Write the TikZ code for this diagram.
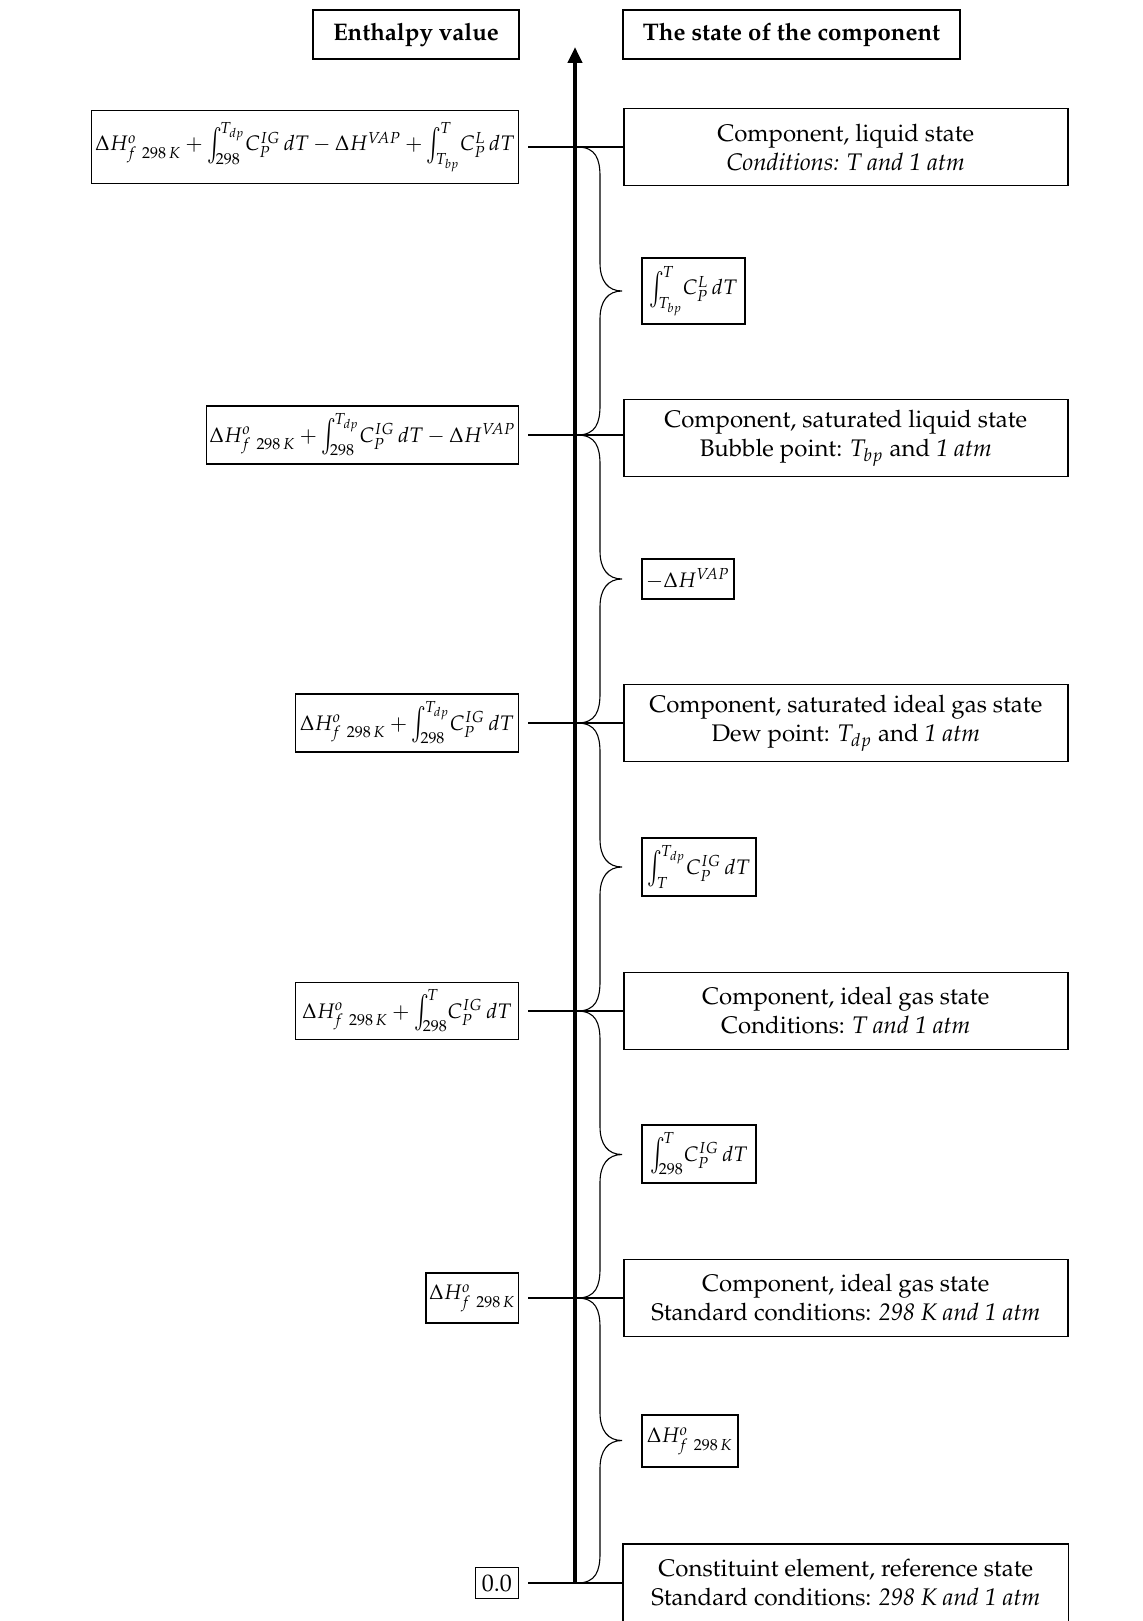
\documentclass[tikz,border=0pt]{standalone}
\usepackage[T1]{fontenc}
\usepackage{mathpazo}
\usepackage{graphicx}
\usetikzlibrary{arrows.meta}
\newcommand{\Hf}{\Delta H^{o}_{f\;\,298\,K}}
\newcommand{\bint}{\mathop{\vcenter{\hbox to 4.5pt{\scalebox{1}[1.5]{$\int$}\hss}}}\nolimits}
\newcommand{\myint}[2]{\bint_{#1}^{\kern2.2pt #2}\!}
\begin{document}
\begin{tikzpicture}[x=0.5pt,y=-0.5pt,
  box/.style={draw, line width=0.75pt, inner sep=2pt, align=center,
    font=\fontsize{12}{14.5}\selectfont},
  mbox/.style={draw, line width=0.75pt, inner sep=1.5pt, align=center,
    font=\fontsize{10.5}{13}\selectfont},
  headbox/.style={box, font=\fontsize{12}{14.5}\selectfont\bfseries},
  hline/.style={line width=1.2pt},
  brc/.style={line width=0.55pt},
  axisline/.style={line width=2pt, -{Triangle[length=8pt,width=7pt]}},
]
\useasboundingbox (0,0) rectangle (1143,1621);
\thickmuskip=4mu plus 2mu
\medmuskip=3.5mu plus 1mu minus 2mu

% headers
\node[headbox, minimum width=103pt, minimum height=24.5pt] (hL) at (416,34.5) {Enthalpy value};
\node[headbox, minimum width=168.5pt, minimum height=24.5pt] (hR) at (791.5,34.5) {The state of the component};

% axis
\coordinate (axbot) at (575,1583);
\coordinate (axtop) at (575,47);
\draw[axisline] (axbot) -- (axtop);

% left boxes (enthalpy values)
\node[mbox, anchor=east, minimum width=213.5pt, minimum height=36.5pt] (L1) at (519,147)
  {$\Hf+\myint{298}{T_{dp}}C_P^{IG}\,dT-\Delta H^{VAP}+\myint{T_{bp}}{T}C_P^{L}\,dT$};
\node[mbox, anchor=east, minimum width=154.5pt, minimum height=29pt] (L2) at (519,435)
  {$\Hf+\myint{298}{T_{dp}}C_P^{IG}\,dT-\Delta H^{VAP}$};
\node[mbox, anchor=east, minimum width=111.5pt, minimum height=29pt] (L3) at (519,723)
  {$\Hf+\myint{298}{T_{dp}}C_P^{IG}\,dT$};
\node[mbox, anchor=east, minimum width=111.5pt, minimum height=28.5pt] (L4) at (519,1011)
  {$\Hf+\myint{298}{T}C_P^{IG}\,dT$};
\node[mbox, anchor=east, minimum width=46pt, minimum height=25pt] (L5) at (519,1298)
  {$\Hf$};
\node[box, anchor=east, minimum width=21.5pt, minimum height=15.5pt, inner sep=1pt] (L6) at (519,1583)
  {0.0};

% right boxes (states)
\node[box, anchor=west, minimum width=222pt, minimum height=38.5pt] (R1) at (623,147)
  {Component, liquid state\\ \textit{Conditions: T and 1 atm}};
\node[box, anchor=west, minimum width=222pt, minimum height=38.5pt] (R2) at (623,438)
  {Component, saturated liquid state\\ Bubble point: $T_{bp}$ and \textit{1 atm}};
\node[box, anchor=west, minimum width=222pt, minimum height=38.5pt] (R3) at (623,723)
  {Component, saturated ideal gas state\\ Dew point: $T_{dp}$ and \textit{1 atm}};
\node[box, anchor=west, minimum width=222pt, minimum height=38.5pt] (R4) at (623,1011)
  {Component, ideal gas state\\ Conditions: \textit{T and 1 atm}};
\node[box, anchor=west, minimum width=222pt, minimum height=38.5pt] (R5) at (623,1298)
  {Component, ideal gas state\\ Standard conditions: \textit{298 K and 1 atm}};
\node[box, draw=none, anchor=west, minimum width=222pt, minimum height=38.5pt] (R6) at (623,1583)
  {Constituint element, reference state\\ Standard conditions: \textit{298 K and 1 atm}};
\draw[line width=0.75pt] (R6.south west) ++(0,-10pt) -- (R6.north west) -- (R6.north east) -- ++(0,-48pt);

% middle boxes (differences)
\node[mbox, anchor=west, minimum width=51.5pt, minimum height=33pt] (M1) at (641,291)
  {$\myint{T_{bp}}{T}C_P^{L}\,dT$};
\node[mbox, anchor=west, minimum width=46pt, minimum height=20pt] (M2) at (641,579)
  {$-\Delta H^{VAP}$};
\node[mbox, anchor=west, minimum width=57pt, minimum height=29pt] (M3) at (641,867)
  {$\myint{T}{T_{dp}}C_P^{IG}\,dT$};
\node[mbox, anchor=west, minimum width=57pt, minimum height=29pt] (M4) at (641,1154)
  {$\myint{298}{T}C_P^{IG}\,dT$};
\node[mbox, anchor=west, minimum width=48pt, minimum height=26pt] (M5) at (641,1441)
  {$\Hf$};

% horizontal level lines
\draw[hline] ([xshift=4.5pt]L1.east) -- (R1.west |- L1.east);
\draw[hline] ([xshift=4.5pt]L2.east) -- (R2.west |- L2.east);
\draw[hline] ([xshift=4.5pt]L3.east) -- (R3.west |- L3.east);
\draw[hline] ([xshift=4.5pt]L4.east) -- (R4.west |- L4.east);
\draw[hline] ([xshift=4.5pt]L5.east) -- (R5.west |- L5.east);
\draw[hline] ([xshift=4.5pt]L6.east) -- (R6.west |- L6.east);

% braces
\foreach \a/\b in {147/435, 435/723, 723/1011, 1011/1298, 1298/1583} {
  \pgfmathsetmacro\m{(\a+\b)/2}
  \draw[brc] (577,\a) .. controls (596,\a) and (600,\a+12) .. (600,\a+30)
    -- (600,\m-28) .. controls (600,\m-10) and (608,\m) .. (622,\m)
    .. controls (608,\m) and (600,\m+10) .. (600,\m+28)
    -- (600,\b-30) .. controls (600,\b-12) and (596,\b) .. (577,\b);
}
\end{tikzpicture}
\end{document}
